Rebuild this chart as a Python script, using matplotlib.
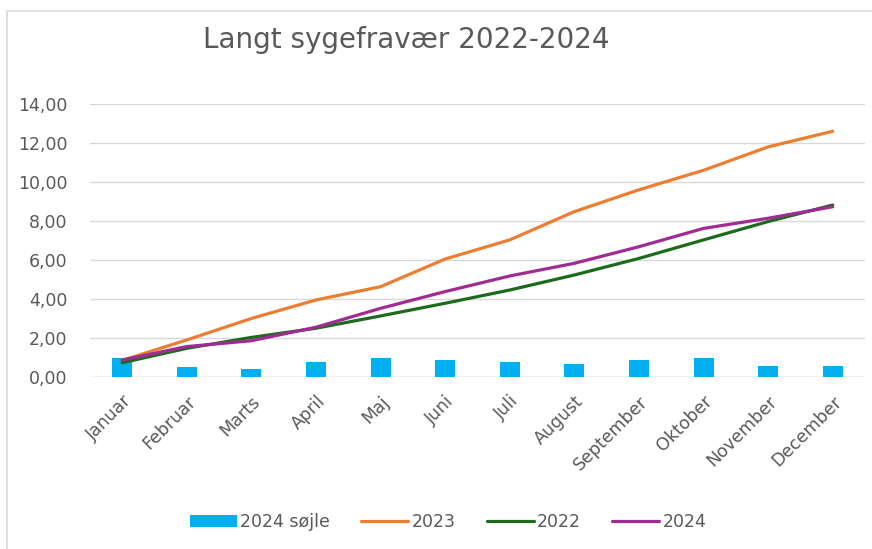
import matplotlib
matplotlib.use("Agg")
import matplotlib.pyplot as plt
from matplotlib.patches import Rectangle
import numpy as np

months = ["Januar", "Februar", "Marts", "April", "Maj", "Juni", "Juli",
          "August", "September", "Oktober", "November", "December"]

bars_2024 = [0.97, 0.51, 0.41, 0.77, 0.97, 0.87, 0.77, 0.67, 0.87, 0.97, 0.56, 0.56]
line_2023 = [0.85, 1.90, 3.00, 3.95, 4.63, 6.05, 7.03, 8.48, 9.60, 10.60, 11.80, 12.60]
line_2022 = [0.73, 1.47, 2.03, 2.50, 3.13, 3.78, 4.46, 5.23, 6.08, 7.03, 7.97, 8.82]
line_2024 = [0.87, 1.56, 1.86, 2.55, 3.52, 4.38, 5.18, 5.83, 6.68, 7.62, 8.14, 8.73]

grey = "#595959"
plt.rcParams['font.family'] = ['DejaVu Sans']

fig = plt.figure(figsize=(8.72, 5.49), dpi=100)
ax = fig.add_axes([0.103, 0.3133, 0.889, 0.4973])

x = np.arange(len(months))
b = ax.bar(x, bars_2024, width=0.31, color="#00B0F0", label="2024 søjle", zorder=2)
l1, = ax.plot(x, line_2023, color="#ED7D31", lw=2.3, label="2023", zorder=3, solid_capstyle="round")
l2, = ax.plot(x, line_2022, color="#1C6B1C", lw=2.3, label="2022", zorder=3, solid_capstyle="round")
l3, = ax.plot(x, line_2024, color="#A02B93", lw=2.3, label="2024", zorder=4, solid_capstyle="round")

ax.set_xlim(-0.5, 11.5)
ax.set_ylim(0, 14)
ax.set_yticks(np.arange(0, 15, 2))
ax.set_yticklabels([f"{v:.2f}".replace(".", ",") for v in np.arange(0, 15, 2)])
ax.set_xticks(x)
ax.set_xticklabels(months, rotation=45, ha="right", rotation_mode="anchor")
ax.tick_params(axis="both", length=0, colors=grey, labelsize=12.5)
ax.tick_params(axis="y", pad=16)
ax.tick_params(axis="x", pad=11)
ax.grid(axis="y", color="#D9D9D9", lw=1, zorder=0)
for s in ax.spines.values():
    s.set_visible(False)
ax.axhline(0, color="#D9D9D9", lw=1, zorder=1)

fig.text(0.466, 0.927, "Langt sygefravær 2022-2024", ha="center", va="center",
         fontsize=20, color=grey)

fig.legend(handles=[b, l1, l2, l3], loc="center", bbox_to_anchor=(0.514, 0.049), ncol=4,
           frameon=False, fontsize=12.5, labelcolor=grey, handlelength=2.7,
           handletextpad=0.2, columnspacing=1.8)

fig.patches.append(Rectangle((7 / 872, -0.05), 1.1, 1.05 - 11 / 549, transform=fig.transFigure,
                             fill=False, edgecolor="#D9D9D9", lw=1.2))

fig.savefig("out.png", dpi=100)
